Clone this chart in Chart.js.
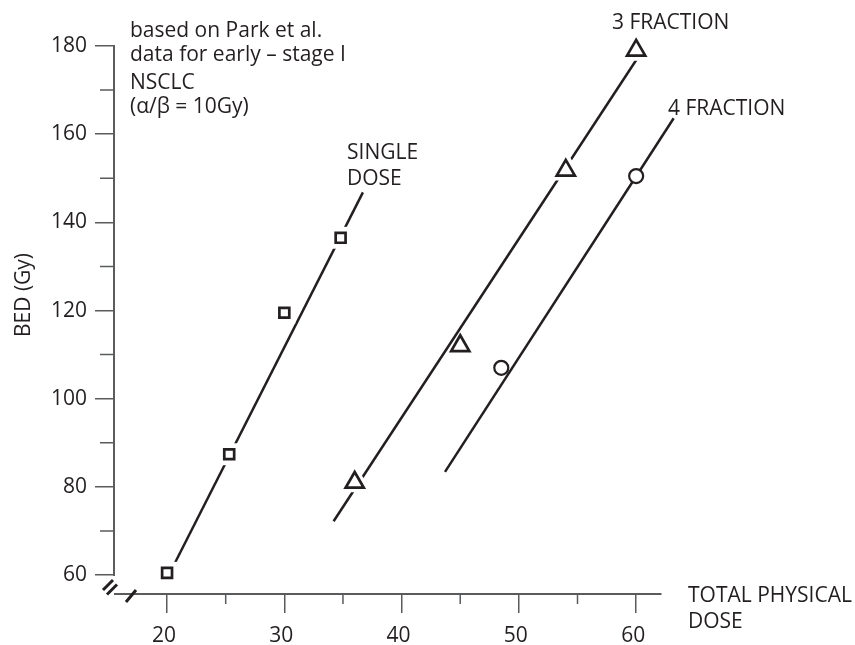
<!DOCTYPE html>
<html>
<head>
  <meta charset="utf-8" />
  <title>BED vs total physical dose</title>
  <script src="https://cdn.jsdelivr.net/npm/chart.js"></script>
  <style>
    html, body { margin: 0; padding: 0; background: #fff; }
    #wrap { width: 855px; height: 645px; position: relative; }
  </style>
</head>
<body>
  <div id="wrap"><canvas id="bedChart"></canvas></div>

  <script>
    // measured points
    const singleDose = [20, 25.3, 30, 34.8];
    const singleBED = [60.5, 87.4, 119.5, 136.5];
    const threeDose = [36, 45, 54, 60];
    const threeBED = [81, 112, 151.8, 179];
    const fourDose = [48.5, 60];
    const fourBED = [107, 150.5];

    // fitted lines (end points)
    const singleFitX = [20.7, 36.7];
    const singleFitY = [62.9, 146.8];
    const threeFitX = [34.2, 60.05];
    const threeFitY = [72.2, 177];
    const fourFitX = [43.7, 63.2];
    const fourFitY = [83.4, 163.6];

    // axes
    const xTicks = [20, 30, 40, 50, 60];
    const xMinorTicks = [25, 35, 45, 55];
    const yTicks = [60, 80, 100, 120, 140, 160, 180];
    const yMinorTicks = [70, 90, 110, 130, 150, 170];

    const INK = '#231f20';
    const AXIS = '#5a5b5d';
    const FONT = '"Open Sans", "Noto Sans", sans-serif';

    const toPoints = (xs, ys) => xs.map((x, i) => ({ x: x, y: ys[i] }));

    function fitLine(xs, ys) {
      return {
        data: toPoints(xs, ys),
        showLine: true,
        borderColor: INK,
        borderWidth: 2.5,
        pointRadius: 0,
        clip: false,
        order: 3
      };
    }

    function markers(xs, ys, style, r, bw, halo) {
      return {
        data: toPoints(xs, ys),
        showLine: false,
        pointStyle: style,
        pointRadius: r,
        pointHoverRadius: r,
        pointBackgroundColor: '#fff',
        pointBorderColor: halo ? '#fff' : INK,
        pointBorderWidth: bw,
        clip: false,
        order: halo ? 2 : 1
      };
    }

    // axis line, minor ticks, breaks and labels
    const decorPlugin = {
      id: 'decor',
      afterDraw(chart) {
        const ctx = chart.ctx;
        const xs = chart.scales.x, ys = chart.scales.y;
        const area = chart.chartArea;
        ctx.save();

        // y axis line stops at 60
        ctx.strokeStyle = AXIS;
        ctx.lineWidth = 2;
        ctx.beginPath();
        ctx.moveTo(area.left - 1, ys.getPixelForValue(180) - 1);
        ctx.lineTo(area.left - 1, ys.getPixelForValue(60) + 1);
        ctx.stroke();

        ctx.lineWidth = 1.5;
        ctx.beginPath();
        yMinorTicks.forEach(v => {
          const py = ys.getPixelForValue(v);
          ctx.moveTo(area.left - 15, py);
          ctx.lineTo(area.left, py);
        });
        xMinorTicks.forEach(v => {
          const px = xs.getPixelForValue(v);
          ctx.moveTo(px, area.bottom);
          ctx.lineTo(px, area.bottom + 10);
        });
        ctx.stroke();

        // axis breaks
        ctx.strokeStyle = INK;
        ctx.lineWidth = 3;
        ctx.beginPath();
        ctx.moveTo(area.left - 12, area.bottom - 4);
        ctx.lineTo(area.left - 2, area.bottom - 14);
        ctx.moveTo(area.left - 8, area.bottom + 0.5);
        ctx.lineTo(area.left + 2, area.bottom - 9.5);
        ctx.moveTo(area.left + 11, area.bottom + 8);
        ctx.lineTo(area.left + 21, area.bottom - 4);
        ctx.stroke();

        ctx.fillStyle = INK;
        ctx.font = '21px ' + FONT;
        ctx.textAlign = 'left';
        ctx.textBaseline = 'alphabetic';
        const notes = [
          ['based on Park et al.', 130, 37],
          ['data for early \u2013 stage I', 130, 61],
          ['NSCLC', 130, 89],
          ['(\u03b1/\u03b2 = 10Gy)', 130, 113],
          ['SINGLE', 347, 159],
          ['DOSE', 347, 185],
          ['3 FRACTION', 612, 29],
          ['4 FRACTION', 668, 115],
          ['TOTAL PHYSICAL', 688, 602],
          ['DOSE', 688, 628]
        ];
        notes.forEach(n => ctx.fillText(n[0], n[1], n[2]));

        ctx.translate(24, 295);
        ctx.rotate(-Math.PI / 2);
        ctx.textAlign = 'center';
        ctx.textBaseline = 'middle';
        ctx.fillText('BED (Gy)', 0, 0);
        ctx.restore();
      }
    };

    const ctx = document.getElementById('bedChart').getContext('2d');
    new Chart(ctx, {
      type: 'scatter',
      data: {
        datasets: [
          fitLine(singleFitX, singleFitY),
          fitLine(threeFitX, threeFitY),
          fitLine(fourFitX, fourFitY),
          markers(singleDose, singleBED, 'rect', 7, 12, true),
          markers(threeDose, threeBED, 'triangle', 10.5, [9, 2, 10, 10], true),
          markers(singleDose, singleBED, 'rect', 7, 2.7, false),
          markers(threeDose, threeBED, 'triangle', 10.5, 2.7, false),
          markers(fourDose, fourBED, 'circle', 7, 2.2, false)
        ]
      },
      options: {
        responsive: true,
        maintainAspectRatio: false,
        animation: false,
        layout: { padding: { top: 46, right: 194, left: 0, bottom: 0 } },
        plugins: {
          legend: { display: false },
          tooltip: { enabled: false }
        },
        scales: {
          x: {
            type: 'linear',
            min: 15.56,
            max: 62.12,
            afterBuildTicks: s => { s.ticks = xTicks.map(v => ({ value: v })); },
            afterFit: s => { s.height = 51; },
            grid: {
              drawOnChartArea: false,
              tickLength: 19,
              tickColor: AXIS,
              lineWidth: 1.5
            },
            border: { display: true, color: AXIS, width: 2 },
            ticks: {
              color: INK,
              font: { family: FONT, size: 21 },
              padding: 10,
              labelOffset: -3,
              maxRotation: 0,
              callback: v => String(v)
            }
          },
          y: {
            type: 'linear',
            min: 55.7,
            max: 180,
            afterBuildTicks: s => { s.ticks = yTicks.map(v => ({ value: v })); },
            afterFit: s => { s.width = 115; },
            grid: {
              drawOnChartArea: false,
              tickLength: 20,
              tickColor: AXIS,
              lineWidth: 1.5
            },
            border: { display: false },
            ticks: {
              color: INK,
              font: { family: FONT, size: 21 },
              padding: 8,
              callback: v => String(v)
            }
          }
        }
      },
      plugins: [decorPlugin]
    });
  </script>
</body>
</html>
